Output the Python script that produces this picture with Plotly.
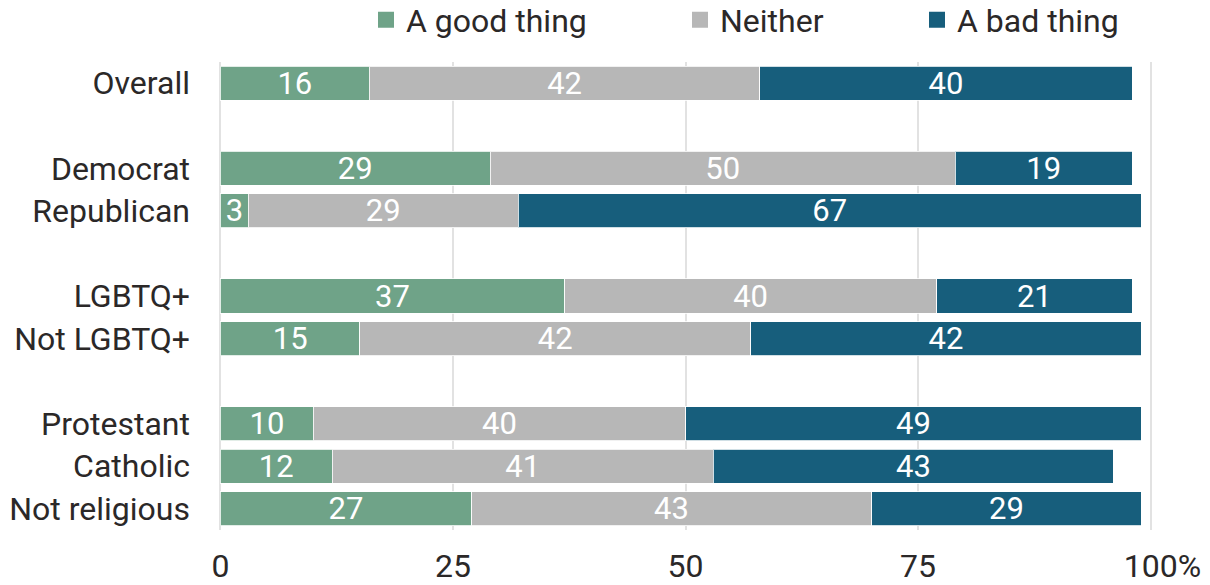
import plotly.graph_objects as go

# ---- data ----
categories = ["Overall", "Democrat", "Republican", "LGBTQ+", "Not LGBTQ+",
              "Protestant", "Catholic", "Not religious"]
row_pos = [0, 2, 3, 5, 6, 8, 9, 10]          # blank rows separate the groups
good = [16, 29, 3, 37, 15, 10, 12, 27]
neither = [42, 50, 29, 40, 42, 40, 41, 43]
bad = [40, 19, 67, 21, 42, 49, 43, 29]
series_names = ["A good thing", "Neither", "A bad thing"]
x_tickvals = [0, 25, 50, 75, 100]
x_ticktext = ["0", "25", "50", "75", "\u00a0\u00a0\u00a0100%"]

colors = ["#6fa388", "#b7b7b7", "#175e7c"]
FONT = "Roboto"
TEXT_COLOR = "#2b2828"

W, H = 1210, 585

fig = go.Figure()
for name, vals, col in zip(series_names, [good, neither, bad], colors):
    fig.add_trace(go.Bar(
        y=row_pos, x=vals, orientation="h", name=name,
        marker=dict(color=col, line=dict(color="rgba(255,255,255,0.8)", width=1)),
        width=0.8,
        text=vals, texttemplate="%{x}", textposition="inside",
        insidetextanchor="middle", textangle=0, constraintext="none",
        textfont=dict(family=FONT, size=31, color="white"),
        showlegend=False, hoverinfo="skip",
    ))

# legend entries (square markers), each in its own legend for exact placement
legend_x = [366 / W, 680 / W, 917 / W]
for i, (name, col) in enumerate(zip(series_names, colors)):
    lg = "legend" if i == 0 else f"legend{i+1}"
    fig.add_trace(go.Scatter(
        x=[None], y=[None], mode="markers", name=name,
        marker=dict(symbol="square", size=18, color=col),
        showlegend=True, legend=lg,
    ))

legend_common = dict(
    orientation="h", yanchor="middle", xanchor="left",
    xref="container", yref="container", y=1 - 20 / H,
    font=dict(family=FONT, size=32, color=TEXT_COLOR),
    bgcolor="rgba(0,0,0,0)", itemwidth=30,
)
fig.update_layout(
    legend=dict(x=legend_x[0], **legend_common),
    legend2=dict(x=legend_x[1], **legend_common),
    legend3=dict(x=legend_x[2], **legend_common),
)

fig.update_layout(
    barmode="stack",
    width=W, height=H,
    margin=dict(l=219, r=58, t=62, b=55, autoexpand=False),
    plot_bgcolor="white", paper_bgcolor="white",
    font=dict(family=FONT, color=TEXT_COLOR),
    xaxis=dict(
        range=[-0.15, 100.15], tickvals=x_tickvals, ticktext=x_ticktext,
        showgrid=True, gridcolor="#e2e2e2", gridwidth=2,
        zeroline=False, showline=False, ticks="",
        ticklabelstandoff=14, automargin=False,
        tickfont=dict(family=FONT, size=32, color=TEXT_COLOR),
        fixedrange=True,
    ),
    yaxis=dict(
        range=[10.5, -0.5], tickvals=row_pos, ticktext=categories,
        showgrid=False, zeroline=False, showline=False, ticks="",
        ticklabelstandoff=28, automargin=False,
        tickfont=dict(family=FONT, size=32, color=TEXT_COLOR),
        fixedrange=True,
    ),
)

# remove the browser's default 8px body margin so the figure fills the window
fig.write_html(
    "out.html",
    config={"displayModeBar": False},
    post_script="document.body.style.margin='0';document.body.style.overflow='hidden';",
)
